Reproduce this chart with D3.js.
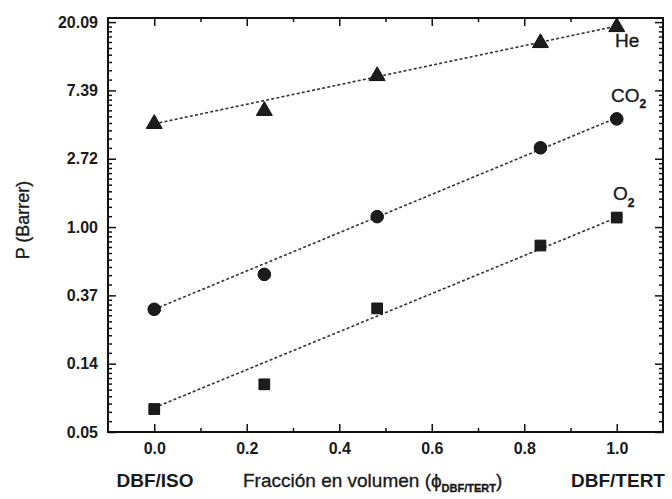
<!DOCTYPE html>
<html>
<head>
<meta charset="utf-8">
<script src="https://cdn.jsdelivr.net/npm/d3@7/dist/d3.min.js"></script>
<style>
  html, body { margin: 0; padding: 0; background: #fff; }
  svg { display: block; }
  text { font-family: "Liberation Sans", Arial, sans-serif; fill: #1a1a1a; }
  .heavy { stroke: #1a1a1a; stroke-width: 0.35px; }
</style>
</head>
<body>
<svg id="chart" width="672" height="499"></svg>
<script>
// ---- data ----
const xFrac = [0.0, 0.238, 0.482, 0.835, 1.0];
const heP  = [4.53, 5.48, 9.13, 14.8, 18.7];
const co2P = [0.300, 0.50, 1.165, 3.19, 4.87];
const o2P  = [0.0697, 0.100, 0.304, 0.763, 1.149];

const fitX   = [0.0, 1.0];
const heFit  = [4.53, 18.95];
const co2Fit = [0.300, 4.95];
const o2Fit  = [0.071, 1.149];

const xTicks = [0.0, 0.2, 0.4, 0.6, 0.8, 1.0];
const xTickLabels = ["0.0", "0.2", "0.4", "0.6", "0.8", "1.0"];
const xMinorTicks = [0.1, 0.3, 0.5, 0.7, 0.9];
const yTickExponents = [-3, -2, -1, 0, 1, 2, 3];
const yTickLabels = ["0.05", "0.14", "0.37", "1.00", "2.72", "7.39", "20.09"];

// ---- layout ----
const svg = d3.select("#chart");
const L = 108, R = 663, T = 18, B = 432;
const x = d3.scaleLinear().domain([-0.1, 1.1]).range([L, R]);
const y = d3.scaleLog().domain([Math.exp(-3), Math.exp(3.06)]).range([B, T]);

const yMajor = yTickExponents.map(k => Math.exp(k));
const yMinor = [];
for (let i = 0; i < yMajor.length - 1; i++) {
  const a = yMajor[i], b = yMajor[i + 1];
  for (let j = 1; j < 10; j++) yMinor.push(a + (b - a) * j / 10);
}
const labelOf = v => yTickLabels[yMajor.indexOf(v)];
const xLabelOf = v => xTickLabels[xTicks.indexOf(v)];

const tickFont = "bold 16px 'Liberation Sans', Arial, sans-serif";

function styleAxis(g) {
  g.select(".domain").remove();
  g.selectAll(".tick line").attr("stroke", "#111").attr("stroke-width", 1.5);
  g.selectAll(".tick text").style("font", tickFont).attr("fill", "#1a1a1a");
}

// left axis
svg.append("g").attr("transform", `translate(${L},0)`)
  .call(d3.axisLeft(y).tickValues(yMajor).tickFormat(labelOf).tickSize(-8).tickSizeOuter(0).tickPadding(10))
  .call(styleAxis);
svg.append("g").attr("transform", `translate(${L},0)`)
  .call(d3.axisLeft(y).tickValues(yMinor).tickFormat("").tickSize(-4).tickSizeOuter(0))
  .call(styleAxis);
// right axis
svg.append("g").attr("transform", `translate(${R},0)`)
  .call(d3.axisRight(y).tickValues(yMajor).tickFormat("").tickSize(-8).tickSizeOuter(0))
  .call(styleAxis);
svg.append("g").attr("transform", `translate(${R},0)`)
  .call(d3.axisRight(y).tickValues(yMinor).tickFormat("").tickSize(-4).tickSizeOuter(0))
  .call(styleAxis);
// bottom axis
svg.append("g").attr("transform", `translate(0,${B})`)
  .call(d3.axisBottom(x).tickValues(xTicks).tickFormat(xLabelOf).tickSize(-8).tickSizeOuter(0).tickPadding(11))
  .call(styleAxis);
svg.append("g").attr("transform", `translate(0,${B})`)
  .call(d3.axisBottom(x).tickValues(xMinorTicks).tickFormat("").tickSize(-4).tickSizeOuter(0))
  .call(styleAxis);
// top axis
svg.append("g").attr("transform", `translate(0,${T})`)
  .call(d3.axisTop(x).tickValues(xTicks).tickFormat("").tickSize(-8).tickSizeOuter(0))
  .call(styleAxis);
svg.append("g").attr("transform", `translate(0,${T})`)
  .call(d3.axisTop(x).tickValues(xMinorTicks).tickFormat("").tickSize(-4).tickSizeOuter(0))
  .call(styleAxis);

// frame
svg.append("rect").attr("x", L).attr("y", T).attr("width", R - L).attr("height", B - T)
  .attr("fill", "none").attr("stroke", "#111").attr("stroke-width", 2);

// fit lines
const line = d3.line().x(d => x(d[0])).y(d => y(d[1]));
[heFit, co2Fit, o2Fit].forEach(f => {
  svg.append("path")
    .attr("d", line(fitX.map((xv, i) => [xv, f[i]])))
    .attr("fill", "none").attr("stroke", "#333").attr("stroke-width", 1.6)
    .attr("stroke-dasharray", "3,2.2");
});

// markers
const series = [
  { vals: heP,  sym: d3.symbolTriangle, size: 110 },
  { vals: co2P, sym: d3.symbolCircle,   size: 125 },
  { vals: o2P,  sym: d3.symbolSquare,   size: 115 }
];
series.forEach(s => {
  svg.append("g").selectAll("path")
    .data(xFrac.map((xv, i) => [xv, s.vals[i]]))
    .join("path")
    .attr("transform", d => `translate(${x(d[0])},${y(d[1])})`)
    .attr("d", d3.symbol().type(s.sym).size(s.size))
    .attr("fill", "#1c1c1c").attr("stroke", "#111").attr("stroke-width", 1);
});

// in-plot labels
svg.append("text").attr("class", "heavy").attr("x", 615).attr("y", 47).style("font-size", "19px").text("He");
const co2t = svg.append("text").attr("class", "heavy").attr("x", 611).attr("y", 102).style("font-size", "19px");
co2t.append("tspan").text("CO");
co2t.append("tspan").attr("dy", 6).style("font-size", "12px").style("font-weight", "bold").text("2");
const o2t = svg.append("text").attr("class", "heavy").attr("x", 613).attr("y", 200).style("font-size", "19px");
o2t.append("tspan").text("O");
o2t.append("tspan").attr("dy", 7).style("font-size", "12px").style("font-weight", "bold").text("2");

// axis titles
svg.append("text").attr("class", "heavy").attr("transform", "translate(29,220) rotate(-90)")
  .attr("text-anchor", "middle").style("font-size", "18px").text("P (Barrer)");
svg.append("text").attr("x", 155).attr("y", 487).attr("text-anchor", "middle")
  .style("font-size", "19px").style("font-weight", "bold").text("DBF/ISO");
svg.append("text").attr("x", 618).attr("y", 487).attr("text-anchor", "middle")
  .style("font-size", "19px").style("font-weight", "bold").text("DBF/TERT");
const xt = svg.append("text").attr("class", "heavy").attr("x", 243).attr("y", 487).style("font-size", "19px");
xt.append("tspan").text("Fracción en volumen (ϕ");
xt.append("tspan").attr("dy", 5).style("font-size", "11px").style("font-weight", "bold").text("DBF/TERT");
xt.append("tspan").attr("dy", -5).text(")");
</script>
</body>
</html>
